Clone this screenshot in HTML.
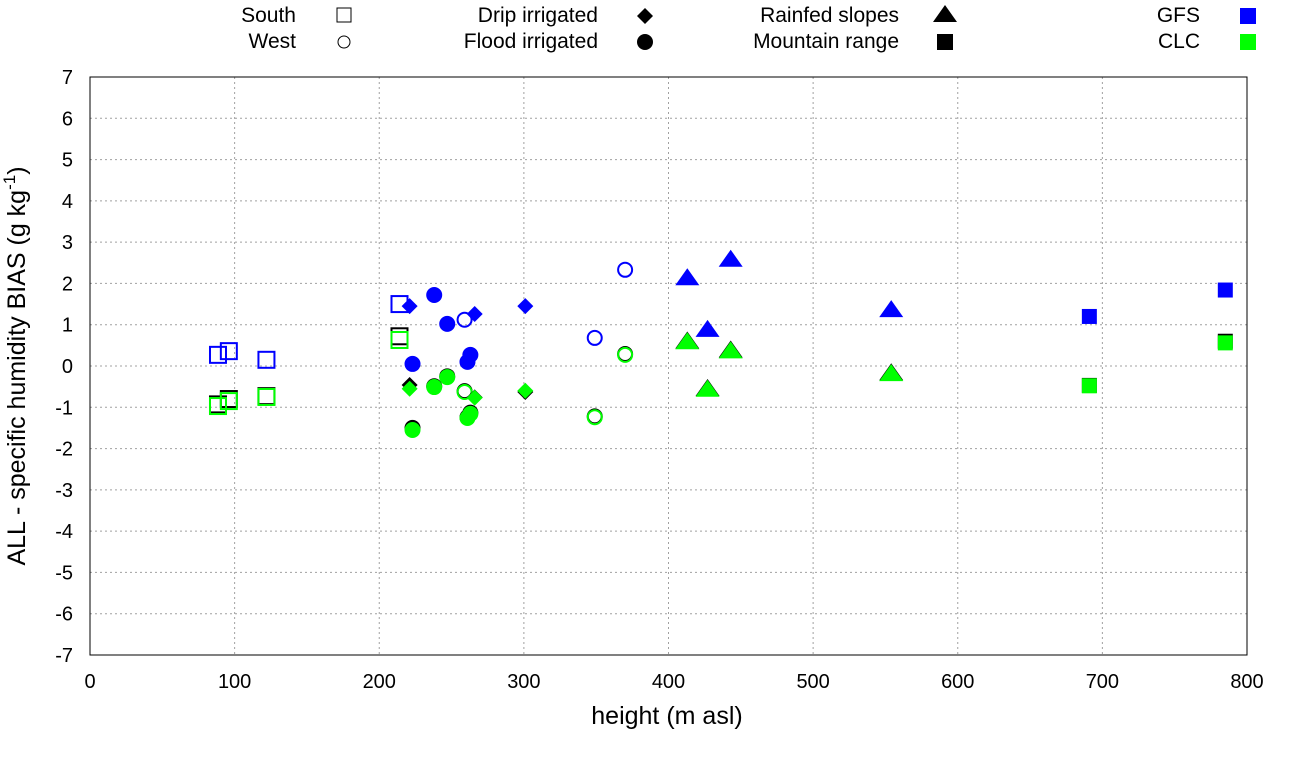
<!DOCTYPE html>
<html><head><meta charset="utf-8"><style>
body{margin:0;background:#fff;}
svg{display:block;font-family:"Liberation Sans",sans-serif;}
</style></head><body>
<svg id="chart" width="1290" height="760" xmlns="http://www.w3.org/2000/svg"></svg>
<script>
// data
const southX=[88.5,96,122,214];
const southGFS=[0.27,0.36,0.15,1.5];
const southCLC=[-0.97,-0.85,-0.75,0.63];
const southOBS=[-0.93,-0.8,-0.73,0.72];
const westX=[259,349,370];
const westGFS=[1.12,0.68,2.33];
const westCLC=[-0.63,-1.24,0.27];
const westOBS=[-0.61,-1.22,0.29];
const dripX=[221,266,301];
const dripGFS=[1.45,1.26,1.45];
const dripCLC=[-0.55,-0.77,-0.6];
const dripOBS=[-0.46,-0.76,-0.63];
const floodX=[238,247,223,261,263];
const floodGFS=[1.72,1.02,0.05,0.1,0.27];
const floodCLC=[-0.51,-0.27,-1.55,-1.26,-1.16];
const floodOBS=[-0.49,-0.25,-1.5,-1.24,-1.13];
const rainX=[413,427,443,554];
const rainGFS=[2.1,0.85,2.55,1.33];
const rainCLC=[0.55,-0.6,0.33,-0.22];
const rainOBS=[0.57,-0.58,0.35,-0.2];
const mtnX=[691,785];
const mtnGFS=[1.2,1.84];
const mtnCLC=[-0.48,0.56];
const mtnOBS=[-0.47,0.6];
const xTicks=[0,100,200,300,400,500,600,700,800];
const yTicks=[-7,-6,-5,-4,-3,-2,-1,0,1,2,3,4,5,6,7];

const svg=document.getElementById('chart');
const NS='http://www.w3.org/2000/svg';
const L=90,R=1247,T=77,B=655;
const xs=v=>L+(v-0)/800*(R-L);
const ys=v=>B-(v+7)/14*(B-T);
function mk(tag,attrs,parent){const e=document.createElementNS(NS,tag);for(const k in attrs)e.setAttribute(k,attrs[k]);(parent||svg).appendChild(e);return e;}

// grid
const grid=mk('g',{});


xTicks.forEach(t=>{
  if(t>0&&t<800){const l=mk('line',{x1:xs(t),x2:xs(t),y1:T,y2:B,stroke:'#a0a0a0','stroke-dasharray':'2,3','stroke-width':1},grid);
  }
  const tx=mk('text',{x:xs(t),y:B+33,'text-anchor':'middle','font-size':20},grid);tx.textContent=t;
  
});
yTicks.forEach(t=>{
  if(t>-7&&t<7){const l=mk('line',{x1:L,x2:R,y1:ys(t),y2:ys(t),stroke:'#a0a0a0','stroke-dasharray':'2,3','stroke-width':1},grid);
  }
  const tx=mk('text',{x:L-17,y:ys(t)+7,'text-anchor':'end','font-size':20},grid);tx.textContent=t;
  
});
const frame=mk('rect',{x:L,y:T,width:R-L,height:B-T,fill:'none',stroke:'#000','stroke-width':1});


const xt=mk('text',{x:667,y:724,'text-anchor':'middle','font-size':25});xt.textContent='height (m asl)';

const yt=mk('text',{transform:'translate(25,366) rotate(-90)','text-anchor':'middle','font-size':25});
yt.innerHTML='ALL - specific humidity BIAS (g kg<tspan dy="-10" font-size="17">-1</tspan><tspan dy="10">)</tspan>';


function marker(shape,cx,cy,color,open,parent){
  const sw=2;let e;
  const fill=open?'none':color,stroke=color;
  if(shape==='square'){const s=open?16:15;e=mk('rect',{x:cx-s/2,y:cy-s/2,width:s,height:s,fill,stroke,'stroke-width':open?sw:0},parent);}
  else if(shape==='circle'){e=mk('circle',{cx,cy,r:open?7:8,fill,stroke,'stroke-width':open?sw:0},parent);}
  else if(shape==='diamond'){const r=8;e=mk('polygon',{points:`${cx},${cy-r} ${cx+r},${cy} ${cx},${cy+r} ${cx-r},${cy}`,fill},parent);}
  else if(shape==='triangle'){e=mk('polygon',{points:`${cx},${cy-11} ${cx+12},${cy+6} ${cx-12},${cy+6}`,fill},parent);}
  return e;
}
const groups=[
 ['south','square',true,southX,southGFS,southCLC,southOBS],
 ['west','circle',true,westX,westGFS,westCLC,westOBS],
 ['drip','diamond',false,dripX,dripGFS,dripCLC,dripOBS],
 ['flood','circle',false,floodX,floodGFS,floodCLC,floodOBS],
 ['rainfed','triangle',false,rainX,rainGFS,rainCLC,rainOBS],
 ['mountain','square',false,mtnX,mtnGFS,mtnCLC,mtnOBS]
];
groups.forEach(g=>{
  const [name,shape,open,X,G,C,O]=g;
  const gg=mk('g',{});
  
  
  X.forEach((x,i)=>{
    const m=marker(shape,xs(x),ys(O[i]),'#000',open,gg);
    
    
  });
  X.forEach((x,i)=>{
    const m=marker(shape,xs(x),ys(C[i]),'#00ff00',open,gg);
    
    
  });
  X.forEach((x,i)=>{
    const m=marker(shape,xs(x),ys(G[i]),'#0000ff',open,gg);
    
    
  });
});

// legend
const leg=mk('g',{});


const items=[
 ['South',296,22,'square',true,'#000',344],
 ['West',296,48,'circle',true,'#000',344],
 ['Drip irrigated',598,22,'diamond',false,'#000',645],
 ['Flood irrigated',598,48,'circle',false,'#000',645],
 ['Rainfed slopes',899,22,'triangle',false,'#000',945],
 ['Mountain range',899,48,'square',false,'#000',945],
 ['GFS',1200,22,'square',false,'#0000ff',1248],
 ['CLC',1200,48,'square',false,'#00ff00',1248]
];
items.forEach(it=>{
  const t=mk('text',{x:it[1],y:it[2],'text-anchor':'end','font-size':21},leg);t.textContent=it[0];
  
  let m;
  if(it[3]==='square'&&it[4]){m=mk('rect',{x:it[6]-7,y:it[2]-14,width:14,height:14,fill:'none',stroke:'#000','stroke-width':1},leg);}
  else if(it[3]==='circle'&&it[4]){m=mk('circle',{cx:it[6],cy:it[2]-6,r:6,fill:'none',stroke:'#000','stroke-width':1},leg);}
  else if(it[3]==='square'){m=mk('rect',{x:it[6]-8,y:it[2]-14,width:16,height:16,fill:it[5]},leg);}
  else m=marker(it[3],it[6],it[2]-6,it[5],false,leg);
  
});
</script>
</body></html>
